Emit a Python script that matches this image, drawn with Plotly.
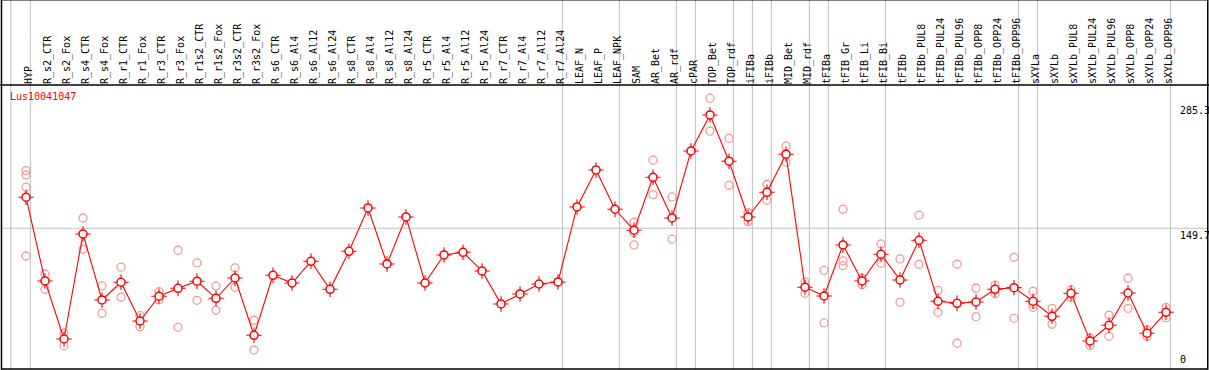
import plotly.graph_objects as go

gene = "Lus10041047"

categories = [
    "HYP", "R_s2_CTR", "R_s2_Fox", "R_s4_CTR", "R_s4_Fox", "R_r1_CTR", "R_r1_Fox",
    "R_r3_CTR", "R_r3_Fox", "R_r1s2_CTR", "R_r1s2_Fox", "R_r3s2_CTR", "R_r3s2_Fox",
    "R_s6_CTR", "R_s6_Al4", "R_s6_Al12", "R_s6_Al24", "R_s8_CTR", "R_s8_Al4",
    "R_s8_Al12", "R_s8_Al24", "R_r5_CTR", "R_r5_Al4", "R_r5_Al12", "R_r5_Al24",
    "R_r7_CTR", "R_r7_Al4", "R_r7_Al12", "R_r7_Al24", "LEAF_N", "LEAF_P", "LEAF_NPK",
    "SAM", "AR_Bet", "AR_rdf", "cPAR", "TOP_Bet", "TOP_rdf", "iFIBa", "iFIBb",
    "MID_Bet", "MID_rdf", "tFIBa", "tFIB_Gr", "tFIB_Li", "tFIB_Bi", "tFIBb",
    "tFIBb_PUL8", "tFIBb_PUL24", "tFIBb_PUL96", "tFIBb_OPP8", "tFIBb_OPP24",
    "tFIBb_OPP96", "sXYLa", "sXYLb", "sXYLb_PUL8", "sXYLb_PUL24", "sXYLb_PUL96",
    "sXYLb_OPP8", "sXYLb_OPP24", "sXYLb_OPP96",
]

means = [
    183.2, 92.9, 30.3, 143.6, 72.4, 91.5, 49.7, 76.4, 85.0, 92.6, 74.2, 96.1, 34.3,
    99.0, 90.7, 114.1, 83.9, 124.9, 171.6, 111.2, 161.9, 90.7, 120.9, 123.8, 103.7,
    68.1, 78.9, 89.6, 91.8, 172.7, 212.6, 170.2,
    147.6, 204.7, 160.8, 233.1, 271.9, 222.0, 161.9, 188.6, 229.6, 86.1,
    76.7, 131.7, 92.9, 121.7, 94.0, 136.8, 71.0, 68.8, 70.2, 83.9, 85.7,
    71.0, 54.8, 79.6, 28.2, 45.1, 79.9, 36.5, 59.1,
]

replicates = [
    [211.9, 207.2, 194.0, 119.8], [100.4, 83.9], [36.5, 23.1], [160.8, 127.1],
    [87.5, 58.0], [107.7, 75.3], [55.4, 43.6], [81.3, 72.4], [126.0, 42.9],
    [112.3, 72.0], [87.5, 61.3], [106.9, 86.1], [50.5, 18.4],
    [], [], [], [], [], [], [], [], [], [], [], [], [], [], [], [], [], [], [],
    [156.2, 145.0, 131.7], [223.1, 186.0], [183.5, 137.9], [], [290.0, 254.4],
    [246.8, 196.1], [166.6, 156.9], [197.2, 179.9], [238.5, 220.9], [91.8, 79.6],
    [104.4, 47.6], [170.2, 114.5, 109.4], [95.8, 88.9], [132.8, 112.0], [116.6, 69.9],
    [163.8, 110.9], [82.8, 59.1], [110.9, 25.7], [85.0, 54.4], [88.6, 79.2],
    [118.4, 52.6], [81.8, 67.7, 64.5], [63.4, 46.2], [83.2, 74.9], [31.4, 23.1],
    [55.9, 33.2], [95.8, 63.4], [40.0, 33.2], [64.5, 53.3],
]

y_tick_values = [285.3, 149.7, 0]
y_tick_labels = ["285.3", "149.7", "0"]
y_grid_values = [149.7]

# category index after which a grey separator is drawn
group_ends = [-1, 0, 28, 31, 34, 35, 37, 38, 39, 41, 42, 45, 52, 53, 60]

x_idx = list(range(len(categories)))
rep_x, rep_y = [], []
for i, reps in enumerate(replicates):
    for v in reps:
        rep_x.append(i)
        rep_y.append(v)

RED = "#FF0000"
PINK = "#F29A9A"
GREY = "#C0C0C0"
FONT = "DejaVu Sans Mono"

fig = go.Figure()
fig.add_trace(go.Scatter(
    x=rep_x, y=rep_y, mode="markers",
    marker=dict(symbol="circle-open", size=8, color=PINK, line=dict(width=1.3, color=PINK)),
    hoverinfo="skip", showlegend=False,
))
fig.add_trace(go.Scatter(
    x=x_idx, y=means, mode="lines",
    line=dict(color=RED, width=1.1), hoverinfo="skip", showlegend=False,
))
fig.add_trace(go.Scatter(
    x=x_idx, y=means, mode="markers",
    marker=dict(symbol="cross-thin-open", size=11, color=RED, line=dict(width=1.1, color=RED)),
    hoverinfo="skip", showlegend=False,
))
fig.add_trace(go.Scatter(
    x=x_idx, y=means, mode="markers",
    marker=dict(symbol="circle", size=8, color="white", line=dict(width=1.5, color=RED)),
    showlegend=False,
))

shapes = []
for g in group_ends:
    xv = g + 0.23 if g >= 0 else -0.8
    shapes.append(dict(type="line", xref="x", yref="paper", x0=xv, x1=xv, y0=-0.01, y1=1.31,
                       line=dict(color=GREY, width=1), layer="below"))
for gv in y_grid_values:
    shapes.append(dict(type="line", xref="paper", yref="y", x0=0, x1=1, y0=gv, y1=gv,
                       line=dict(color=GREY, width=1), layer="below"))
# separator between labels and plot, and outer frame
shapes.append(dict(type="line", xref="paper", yref="paper", x0=-0.01, x1=1.01, y0=1, y1=1,
                   line=dict(color="black", width=1.5)))
shapes.append(dict(type="rect", xref="paper", yref="paper", x0=0.0004, x1=0.9998, y0=0.0, y1=1.3,
                   line=dict(color="black", width=1.5)))

annotations = []
for v, t in zip(y_tick_values, y_tick_labels):
    annotations.append(dict(
        xref="x", yref="y", x=60.62, y=v, text=t, showarrow=False,
        xanchor="left", yanchor=("bottom" if v == 0 else "top"),
        font=dict(family=FONT, size=10, color="black"),
    ))
annotations.append(dict(
    xref="paper", yref="paper", x=0.0062, y=0.985, text=gene, showarrow=False,
    xanchor="left", yanchor="top", font=dict(family=FONT, size=10, color=RED),
))

fig.update_layout(
    width=1209, height=370,
    margin=dict(l=1, r=1, t=85, b=1),
    paper_bgcolor="white", plot_bgcolor="white",
    shapes=shapes, annotations=annotations,
    xaxis=dict(
        range=[-1.316, 62.21], side="top", tickmode="array", tickvals=x_idx, ticktext=categories,
        tickangle=-90, tickfont=dict(family=FONT, size=10, color="black"), ticklabelshift=3,
        showgrid=False, zeroline=False, showline=False, ticks="", fixedrange=True,
    ),
    yaxis=dict(
        range=[-2.05, 304.2], showticklabels=False, showgrid=False, zeroline=False,
        showline=False, ticks="", fixedrange=True,
    ),
    showlegend=False,
)

fig.write_html(
    "out.html",
    config={"displayModeBar": False},
    post_script="document.body.style.margin='0';document.body.style.overflow='hidden';",
)
